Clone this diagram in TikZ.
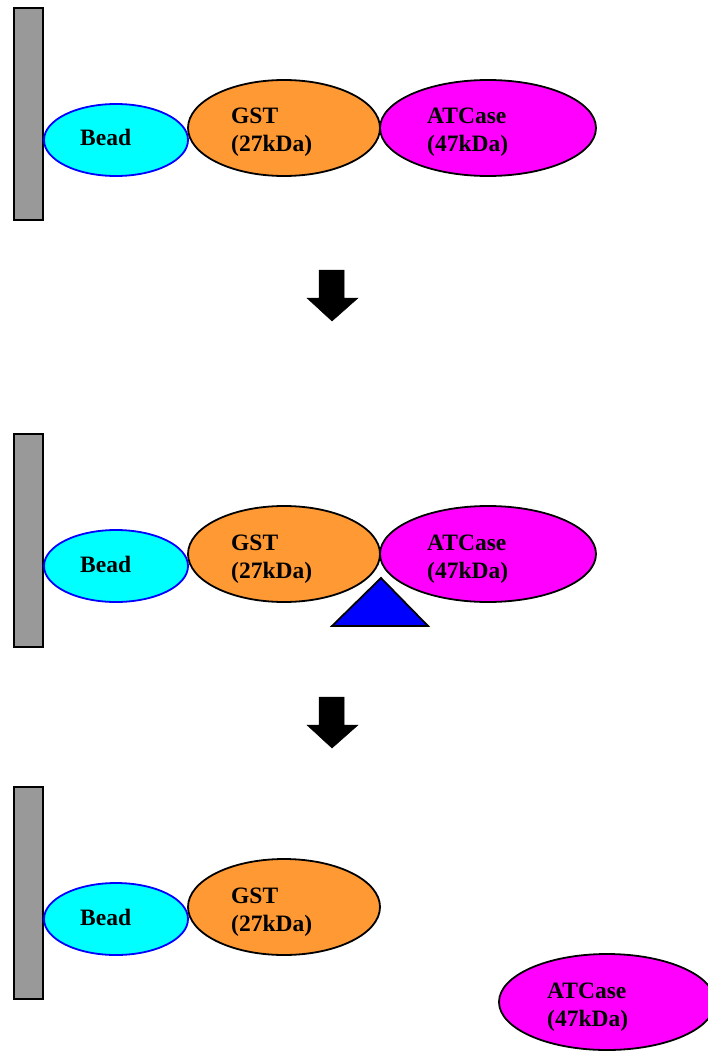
\documentclass[tikz,border=0pt]{standalone}
\usepackage{fontspec}
\setmainfont{Liberation Serif}
\usetikzlibrary{shapes.geometric}
\definecolor{bargray}{HTML}{999999}
\definecolor{gstorange}{HTML}{FF9933}
\definecolor{beadcyan}{HTML}{00FFFF}
\definecolor{atcmag}{HTML}{FF00FF}
\definecolor{tribl}{HTML}{0000FF}
\tikzset{
  bar/.style={draw=black, fill=bargray, line width=1.8pt},
  blob/.style={ellipse, draw=black, line width=1.8pt, inner sep=0pt},
  bead/.style={blob, draw=tribl, fill=beadcyan, minimum width=144pt, minimum height=72pt},
  gst/.style={blob, fill=gstorange, minimum width=192pt, minimum height=96pt},
  atc/.style={blob, fill=atcmag, minimum width=216pt, minimum height=96pt},
  lbl/.style={anchor=base west, inner sep=0pt, font=\fontsize{23.5}{28}\selectfont\bfseries, align=left},
  blockarrow/.style={fill=black, draw=black, line width=0.5pt},
  tri/.style={draw=black, fill=tribl, line width=1.8pt, line join=miter}
}
\begin{document}
\begin{tikzpicture}[x=1pt,y=-1pt]
\useasboundingbox (0,0) rectangle (707,1051);
% ---------- panel 1
\draw[bar] (14,8) rectangle (43,220);
\node[bead] (bead1) at (116,140) {};
\node[gst] (gst1) at (284,128) {};
\node[atc] (atc1) at (488,128) {};
\node[lbl] (tb1) at (80,146) {Bead};
\node[lbl] (tg1) at (231,152) {GST\\(27kDa)};
\node[lbl] (ta1) at (427,152) {ATCase\\(47kDa)};
% arrow 1
\fill[blockarrow] (319,270) -- (344,270) -- (344,298) -- (358,298) -- (332,321) -- (307,298) -- (319,298) -- cycle;
% ---------- panel 2
\draw[bar] (14,434) rectangle (43,647);
\node[bead] (bead2) at (116,566) {};
\node[gst] (gst2) at (284,554) {};
\node[atc] (atc2) at (488,554) {};
\node[lbl] (tb2) at (80,572) {Bead};
\node[lbl] (tg2) at (231,578) {GST\\(27kDa)};
\node[lbl] (ta2) at (427,578) {ATCase\\(47kDa)};
\draw[tri] (381,578) -- (428,626) -- (332,626) -- cycle;
% arrow 2
\fill[blockarrow] (319,697) -- (344,697) -- (344,725) -- (358,725) -- (332,748) -- (307,725) -- (319,725) -- cycle;
% ---------- panel 3
\draw[bar] (14,787) rectangle (43,999);
\node[bead] (bead3) at (116,919) {};
\node[gst] (gst3) at (284,907) {};
\node[atc] (atc3) at (607,1002) {};
\node[lbl] (tb3) at (80,925) {Bead};
\node[lbl] (tg3) at (231,931) {GST\\(27kDa)};
\node[lbl] (ta3) at (547,1026) {ATCase\\(47kDa)};
\end{tikzpicture}
\end{document}
